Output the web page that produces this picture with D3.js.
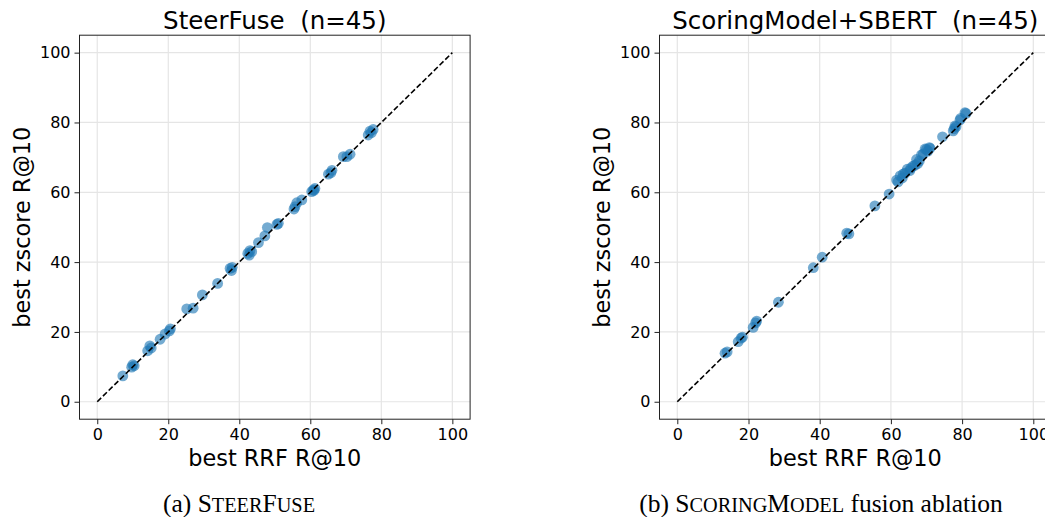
<!DOCTYPE html>
<html>
<head>
<meta charset="utf-8">
<script src="https://cdn.jsdelivr.net/npm/d3@7"></script>
<style>
  body { margin: 0; background: #fff; }
  text { white-space: pre; }
</style>
</head>
<body>
<script>
// values
var steerRRF = [7.2, 9.7, 10.4, 10.0, 14.2, 14.8, 17.7, 19.1, 20.3, 20.6,
                25.2, 27.0, 29.6, 33.9, 37.4, 38.0, 37.8, 42.4, 43.0, 43.5,
                45.4, 47.2, 47.9, 51.0, 50.6, 55.7, 56.2, 57.6, 55.4, 60.4,
                61.3, 60.9, 65.1, 65.8, 66.1, 69.3, 70.3, 71.2, 76.3, 77.7,
                77.2, 15.2, 42.8, 61.0, 76.8];
var steerZ   = [7.4, 9.9, 10.3, 10.6, 14.6, 16.0, 17.9, 19.4, 20.3, 20.9,
                26.6, 26.8, 30.6, 33.9, 38.2, 38.5, 37.6, 42.5, 43.3, 43.0,
                45.6, 47.5, 49.9, 51.1, 50.8, 55.9, 57.0, 57.8, 55.2, 60.2,
                61.1, 60.7, 65.2, 65.6, 66.3, 70.2, 70.2, 70.9, 76.4, 78.0,
                77.1, 15.4, 42.0, 60.5, 77.5];

var sbertRRF = [13.4, 14.0, 17.1, 18.3, 17.9, 21.3, 22.3, 22.0, 28.4, 38.2,
                40.7, 47.6, 48.2, 55.5, 59.5, 61.6, 62.6, 63.2, 64.6, 64.0,
                65.3, 66.8, 66.2, 67.2, 68.0, 68.6, 69.1, 70.0, 70.8, 71.0,
                70.4, 69.6, 74.5, 77.5, 77.8, 78.0, 78.3, 79.4, 79.6, 80.8,
                81.1, 63.5, 65.6, 67.5, 62.0];
var sbertZ   = [13.9, 14.3, 17.2, 18.5, 18.2, 21.3, 23.1, 22.6, 28.5, 38.4,
                41.4, 48.3, 48.1, 56.1, 59.5, 63.5, 64.7, 64.1, 66.6, 65.5,
                66.2, 67.8, 67.5, 69.4, 69.0, 70.7, 71.0, 72.3, 72.8, 72.6,
                71.8, 72.4, 75.9, 77.6, 78.2, 79.0, 78.8, 80.7, 81.2, 82.8,
                82.6, 65.3, 66.9, 68.2, 63.0];

var tickVals = [0, 20, 40, 60, 80, 100];
var refLine = [0, 100];

var width = 1045, height = 517;

var svg = d3.select("body").append("svg")
    .attr("width", width)
    .attr("height", height)
    .style("font-family", "'DejaVu Sans', sans-serif");

function drawPanel(left, right, title, xs, ys) {
  var top = 35.2, bottom = 419.2;
  var x = d3.scaleLinear().domain([-5, 105]).range([left, right]);
  var y = d3.scaleLinear().domain([-5, 105]).range([bottom, top]);

  var g = svg.append("g");

  // grid
  g.selectAll(".gx").data(tickVals).enter().append("line")
      .attr("x1", function(d) { return x(d); })
      .attr("x2", function(d) { return x(d); })
      .attr("y1", top).attr("y2", bottom)
      .attr("stroke", "#e5e5e5").attr("stroke-width", 1.2);
  g.selectAll(".gy").data(tickVals).enter().append("line")
      .attr("y1", function(d) { return y(d); })
      .attr("y2", function(d) { return y(d); })
      .attr("x1", left).attr("x2", right)
      .attr("stroke", "#e5e5e5").attr("stroke-width", 1.2);

  // points
  var pts = xs.map(function(v, i) { return [v, ys[i]]; });
  g.selectAll("circle").data(pts).enter().append("circle")
      .attr("cx", function(d) { return x(d[0]); })
      .attr("cy", function(d) { return y(d[1]); })
      .attr("r", 5.4)
      .attr("fill", "#1f77b4")
      .attr("fill-opacity", 0.62);

  // y = x reference
  g.append("line")
      .attr("x1", x(refLine[0])).attr("y1", y(refLine[0]))
      .attr("x2", x(refLine[1])).attr("y2", y(refLine[1]))
      .attr("stroke", "#000").attr("stroke-width", 1.6)
      .attr("stroke-dasharray", "5.5,2.5");

  // axes
  var xa = g.append("g")
      .attr("transform", "translate(0," + bottom + ")")
      .call(d3.axisBottom(x).tickValues(tickVals).tickSize(5).tickPadding(4));
  var ya = g.append("g")
      .attr("transform", "translate(" + left + ",0)")
      .call(d3.axisLeft(y).tickValues(tickVals).tickSize(5).tickPadding(4));
  [xa, ya].forEach(function(a) {
    a.select(".domain").remove();
    a.selectAll("text").style("font-size", "16px")
      .style("font-family", "'DejaVu Sans', sans-serif").attr("fill", "#000");
    a.selectAll("line").attr("stroke", "#222");
  });

  // frame
  g.append("rect")
      .attr("x", left).attr("y", top)
      .attr("width", right - left).attr("height", bottom - top)
      .attr("fill", "none").attr("stroke", "#222").attr("stroke-width", 1);

  var cx = (left + right) / 2;
  g.append("text")
      .attr("x", cx).attr("y", 29)
      .attr("text-anchor", "middle")
      .style("font-size", "24.5px")
      .text(title);
  g.append("text")
      .attr("x", cx).attr("y", 466)
      .attr("text-anchor", "middle")
      .style("font-size", "22.4px")
      .text("best RRF R@10");
  g.append("text")
      .attr("transform", "translate(" + (left - 50) + "," + ((top + bottom) / 2) + ") rotate(-90)")
      .attr("text-anchor", "middle")
      .style("font-size", "22.4px")
      .text("best zscore R@10");
}

drawPanel(79.5, 470.1, "SteerFuse  (n=45)", steerRRF, steerZ);
drawPanel(659.5, 1051.1, "ScoringModel+SBERT  (n=45)", sbertRRF, sbertZ);

// sub-figure captions, small caps done by hand
function caption(cx, parts) {
  var t = svg.append("text")
      .attr("x", cx).attr("y", 512)
      .attr("text-anchor", "middle")
      .style("font-family", "'Liberation Serif', 'Times New Roman', serif");
  parts.forEach(function(p) {
    t.append("tspan").style("font-size", p[1] + "px").text(p[0]);
  });
}
caption(239, [["(a) S", 25.5], ["TEER", 20.3], ["F", 25.5], ["USE", 20.3]]);
caption(821, [["(b) S", 25.5], ["CORING", 20.3], ["M", 25.5], ["ODEL", 20.3], [" fusion ablation", 25.5]]);
</script>
</body>
</html>
